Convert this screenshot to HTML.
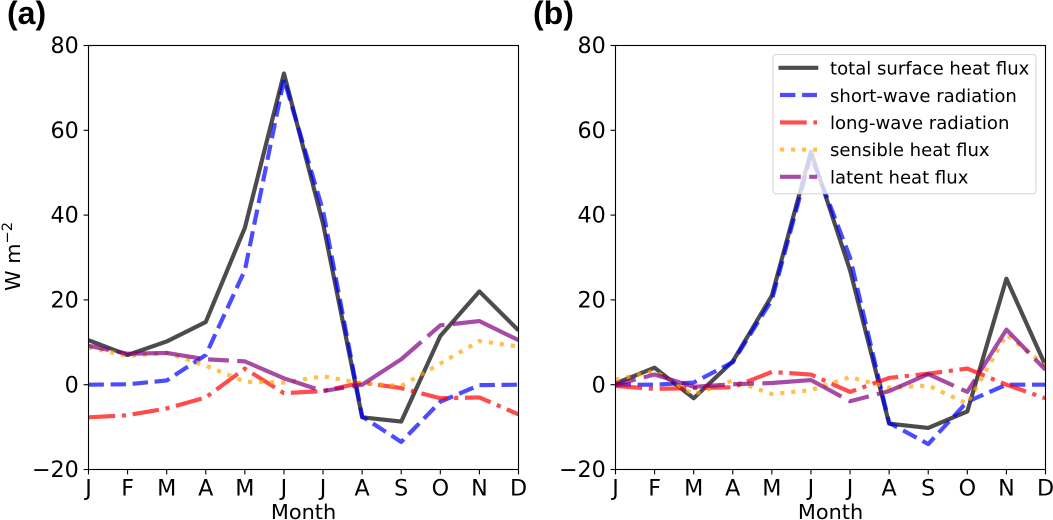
<!DOCTYPE html>
<html>
<head>
<meta charset="utf-8">
<style>
html,body{margin:0;padding:0;background:#fff;width:1053px;height:520px;overflow:hidden}
svg{display:block}
text{font-family:"DejaVu Sans","Liberation Sans",sans-serif;fill:#000}
</style>
</head>
<body>
<svg id="fig" xmlns="http://www.w3.org/2000/svg" width="1053" height="520" viewBox="0 0 1053 520">
  <defs>
    <clipPath id="clip-a"><rect x="88.5" y="45.5" width="430" height="424"/></clipPath>
    <clipPath id="clip-b"><rect x="615.5" y="45.5" width="430" height="424"/></clipPath>
  </defs>
  <text x="7" y="24" font-size="32" font-weight="bold" style="font-family:'Liberation Sans',sans-serif">(a)</text>
  <text x="533" y="24" font-size="32" font-weight="bold" style="font-family:'Liberation Sans',sans-serif">(b)</text>
  <g id="panel-a"></g>
  <g id="panel-b"></g>
  <text transform="translate(20,291) rotate(-90)" font-size="20.83">W m<tspan font-size="14.6" dy="-8">−2</tspan></text>
  <g id="legend">
    <rect x="772.9" y="54.5" width="263" height="139.3" rx="3" ry="3" fill="#fff" fill-opacity="0.8" stroke="#ccc" stroke-opacity="0.8" stroke-width="1.1"/>
    <g>
      <line x1="778.5" x2="818.3" y1="67.8" y2="67.8" stroke="#000" stroke-opacity="0.7" stroke-width="4.17"/>
      <text x="830" y="74.6" font-size="18.06">total surface heat flux</text>
    </g>
    <g>
      <line x1="780" x2="817" y1="95" y2="95" stroke="#00f" stroke-opacity="0.7" stroke-width="4.17" stroke-dasharray="15.4 6.67"/>
      <text x="830" y="101.8" font-size="18.06">short-wave radiation</text>
    </g>
    <g>
      <line x1="780" x2="817" y1="122.4" y2="122.4" stroke="#f00" stroke-opacity="0.7" stroke-width="4.17" stroke-dasharray="26.7 6.67 4.17 6.67"/>
      <text x="830" y="129" font-size="18.06">long-wave radiation</text>
    </g>
    <g>
      <line x1="780" x2="817" y1="149.6" y2="149.6" stroke="#ffa500" stroke-opacity="0.7" stroke-width="4.17" stroke-dasharray="4.17 6.88"/>
      <text x="830" y="156.2" font-size="18.06">sensible heat flux</text>
    </g>
    <g>
      <line x1="780" x2="817" y1="176.8" y2="176.8" stroke="#800080" stroke-opacity="0.7" stroke-width="4.17" stroke-dasharray="20.85 8.34 83.4 8.34"/>
      <text x="830" y="183.4" font-size="18.06">latent heat flux</text>
    </g>
  </g>
</svg>
<script>
const months = ['J','F','M','A','M','J','J','A','S','O','N','D'];
const yTicks = [-20, 0, 20, 40, 60, 80];

const totalA = [10.5, 7, 10.2, 14.8, 37, 73.4, 38, -7.7, -8.7, 11.5, 22, 12.8];
const shortA = [0, 0.1, 1, 7, 27, 72, 41, -7.5, -13.5, -4, -0.1, 0];
const longA = [-7.7, -7.2, -5.6, -3, 3.8, -2, -1.5, 0.5, -0.8, -3.2, -3, -7];
const sensibleA = [8.8, 6.8, 7.5, 4.5, 0.7, 0.5, 2, 0.3, -0.3, 5, 10.3, 9];
const latentA = [9.2, 7.3, 7.5, 6, 5.5, 1.5, -1.5, 0, 6, 14, 15, 10.5];

const totalB = [0.3, 4, -3.2, 5.5, 21, 55, 27, -9.2, -10.2, -6.3, 25, 4.5];
const shortB = [0, 0, 0.5, 5.3, 20, 54, 30, -9, -14, -4, 0, 0];
const longB = [-0.3, -1, -0.8, -0.6, 3, 2.4, -1.7, 1.6, 2.6, 3.8, 0, -3.2];
const sensibleB = [1.2, 3.2, -2.3, 1, -2.2, -1.3, 1.8, -0.7, -0.2, -4.5, 11.8, 4.5];
const latentB = [0, 2.4, -0.5, 0.1, 0.4, 1.1, -3.9, -1.5, 2.5, -1.7, 13, 3.5];

const NS = 'http://www.w3.org/2000/svg';
const plotTop = 45.5, plotHeight = 424, plotWidth = 430;
const yMin = -20, yMax = 80;
const yScale = v => plotTop + (yMax - v) / (yMax - yMin) * plotHeight;

function drawSeries(group, left, clipId, values, name, color, dash) {
  const xScale = i => left + i / (months.length - 1) * plotWidth;
  const line = document.createElementNS(NS, 'polyline');
  
  
  line.setAttribute('points', values.map((v, i) => xScale(i).toFixed(2) + ',' + yScale(v).toFixed(2)).join(' '));
  line.setAttribute('fill', 'none');
  line.setAttribute('stroke', color);
  line.setAttribute('stroke-opacity', '0.7');
  line.setAttribute('stroke-width', '4.17');
  line.setAttribute('stroke-linejoin', 'round');
  if (dash) line.setAttribute('stroke-dasharray', dash);
  line.setAttribute('clip-path', 'url(#' + clipId + ')');
  group.appendChild(line);
}

function drawAxes(group, left) {
  const frame = document.createElementNS(NS, 'rect');
  
  
  frame.setAttribute('x', left);
  frame.setAttribute('y', plotTop);
  frame.setAttribute('width', plotWidth);
  frame.setAttribute('height', plotHeight);
  frame.setAttribute('fill', 'none');
  frame.setAttribute('stroke', '#000');
  frame.setAttribute('stroke-width', '1.11');
  group.appendChild(frame);

  yTicks.forEach(t => {
    const y = yScale(t);
    const tick = document.createElementNS(NS, 'line');
    
    
    tick.setAttribute('x1', left - 4.9);
    tick.setAttribute('x2', left);
    tick.setAttribute('y1', y);
    tick.setAttribute('y2', y);
    tick.setAttribute('stroke', '#000');
    tick.setAttribute('stroke-width', '1.11');
    group.appendChild(tick);
    const label = document.createElementNS(NS, 'text');
    
    
    label.setAttribute('x', left - 9.7);
    label.setAttribute('y', y + 7.6);
    label.setAttribute('text-anchor', 'end');
    label.setAttribute('font-size', '22.22');
    label.textContent = String(t).replace('-', '\u2212');
    group.appendChild(label);
  });

  months.forEach((m, i) => {
    const x = left + i / (months.length - 1) * plotWidth;
    const tick = document.createElementNS(NS, 'line');
    
    
    tick.setAttribute('x1', x);
    tick.setAttribute('x2', x);
    tick.setAttribute('y1', plotTop + plotHeight);
    tick.setAttribute('y2', plotTop + plotHeight + 4.9);
    tick.setAttribute('stroke', '#000');
    tick.setAttribute('stroke-width', '1.11');
    group.appendChild(tick);
    const label = document.createElementNS(NS, 'text');
    
    
    label.setAttribute('x', x);
    label.setAttribute('y', 495.5);
    label.setAttribute('text-anchor', 'middle');
    label.setAttribute('font-size', '22.22');
    label.textContent = m;
    group.appendChild(label);
  });

  const title = document.createElementNS(NS, 'text');
  
  
  title.setAttribute('x', left + plotWidth / 2);
  title.setAttribute('y', 519);
  title.setAttribute('text-anchor', 'middle');
  title.setAttribute('font-size', '20.83');
  title.textContent = 'Month';
  group.appendChild(title);
}

function drawPanel(id, left, clipId, total, short, long, sensible, latent) {
  const g = document.getElementById(id);
  drawSeries(g, left, clipId, total, 'total-surface-heat-flux-line', '#000', '');
  drawSeries(g, left, clipId, short, 'short-wave-radiation-line', '#00f', '15.4 6.67');
  drawSeries(g, left, clipId, long, 'long-wave-radiation-line', '#f00', '26.7 6.67 4.17 6.67');
  drawSeries(g, left, clipId, sensible, 'sensible-heat-flux-line', '#ffa500', '4.17 6.88');
  drawSeries(g, left, clipId, latent, 'latent-heat-flux-line', '#800080', '20.85 8.34 83.4 8.34');
  drawAxes(g, left);
}

drawPanel('panel-a', 88.5, 'clip-a', totalA, shortA, longA, sensibleA, latentA);
drawPanel('panel-b', 615.5, 'clip-b', totalB, shortB, longB, sensibleB, latentB);
</script>
</body>
</html>
